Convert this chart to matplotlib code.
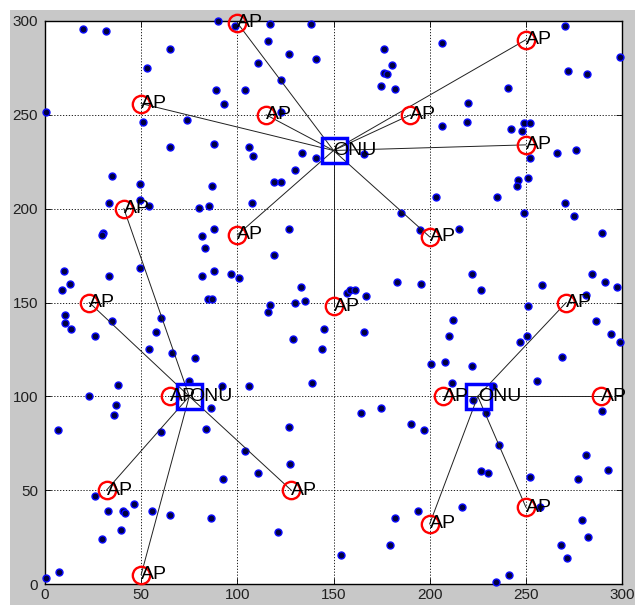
import matplotlib
matplotlib.use("Agg")
import matplotlib.pyplot as plt
from matplotlib.patches import Rectangle

plt.rcParams['font.family'] = ['Liberation Sans', 'DejaVu Sans']

# ---- data ----
tick_values = [0, 50, 100, 150, 200, 250, 300]

onu_x = [150, 75, 225]
onu_y = [231, 100, 100]

ap_x = [100, 50, 115, 190, 250, 250, 100, 200, 150,
        41, 23, 65, 32, 50, 128,
        271, 207, 289, 200, 250]
ap_y = [299, 256, 250, 250, 290, 234, 186, 185, 148,
        200, 150, 100, 50, 5, 50,
        150, 100, 100, 32, 41]
ap_onu = [0, 0, 0, 0, 0, 0, 0, 0, 0,
          1, 1, 1, 1, 1, 1,
          2, 2, 2, 2, 2]

user_x = [19.9, 31.7, 65, 52.9, 88.7, 92.9, 0.7, 51, 73.8, 65, 87.9, 34.7, 86.8, 49.6, 33.5,
          49.4, 53.9, 79.9, 85.1, 30.3, 29.6, 81.8, 88.1, 83, 49.4, 9.9, 33.5, 13, 8.7, 81.8,
          87.9, 96.7, 101, 84.6, 86.7, 90, 99,
          117, 138.1, 115.8, 127, 140.7, 110.9, 122.9, 104.2, 176.1, 180.4, 176.1, 178, 174.9,
          182.2, 106.1, 108, 133.8, 140.9, 130.2, 118.9, 122.7, 107.8, 127.1, 185.3, 194.8,
          118.9, 133.1, 157, 158.6, 161.4, 166.7, 182.9, 195.3, 130.2, 135, 117, 115.8, 166,
          122.7,
          206.4, 270.2, 299.2, 272.1, 282, 240.6, 220.1, 206.4, 219.4, 242.3, 247.9, 249.1,
          252.2, 252.2, 266.4, 276.3, 251, 246, 245.4, 203.3, 235, 270.4, 249.1, 275.1, 289.5,
          215.1, 221.9, 226.9, 284.6, 291.4, 297.4, 258.6, 281.3,
          10.6, 10.6, 13.3, 34.8, 60.3, 26.2, 57.7, 53.9, 66, 78, 75.1, 91.9, 38, 22.9, 36.8,
          35.9, 86.1, 6.9, 60.2, 83.6, 92.7, 26.2, 46.5, 32.8, 40.7, 41.8, 55.6, 65, 86.1,
          39.5, 29.6, 7.5, 0.5,
          145.1, 128.8, 166.1, 143.9, 138.7, 106.1, 200.5, 164.3, 174.7, 190.3, 197.1, 127.1,
          104.2, 127.6, 110.9, 121, 153.7, 182.2, 193.8, 179.2,
          251, 212, 210.3, 250.5, 247.2, 286.4, 294.3, 299.2, 269, 208.2, 221.9, 211.5, 256,
          233.1, 222.7, 229.3, 289.5, 236.1, 281.1, 292.6, 226.7, 230.2, 252, 277.2, 217,
          279.4, 282.2, 268.3, 271.4, 241.1, 234.3, 257.4]
user_y = [295.5, 294.5, 285.3, 275.1, 263.2, 255.6, 251.5, 246, 247.3, 233.1, 234.3, 217.6, 212.3, 213.4, 203.2,
          204.7, 201.3, 200.4, 201.5, 187.3, 186.2, 185.5, 189, 178.9, 168.3, 167, 164.2, 159.9, 156.9, 164.2,
          167, 165.3, 162.8, 152.1, 152.1, 300, 297.5,
          298.6, 298.6, 289.5, 282.4, 279.6, 277.6, 268.7, 263.2, 285.3, 276.4, 272.5, 271.6, 265.2,
          263.6, 233.1, 228.3, 229.5, 227, 220.6, 214.3, 214.3, 203.2, 189.2, 197.9, 188.5,
          175.4, 158.3, 155.3, 156.4, 156.4, 153.4, 161, 159.6, 150, 150.9, 148.5, 145, 229,
          251.5,
          288.3, 297.1, 280.6, 273.4, 271.6, 264.5, 256.1, 244.2, 246, 242.5, 241.2, 245.5,
          245.5, 227, 229.5, 231.1, 216.4, 215.1, 212.1, 206.3, 206.3, 203.2, 197.9, 196.1, 187.3,
          189.2, 165.3, 156.4, 165.3, 161, 158.2, 159.4, 153.9,
          143.2, 139.2, 136.1, 140.4, 142, 132.1, 134.4, 125, 123, 120.2, 108.3, 105.4, 106, 100, 95.3,
          89.8, 93.9, 82.2, 81, 82.7, 56.1, 47, 42.8, 38.7, 38.7, 38, 38.7, 36.9, 35.2,
          28.6, 23.8, 6.2, 3,
          136.1, 130.8, 134.4, 125, 106.9, 105.3, 117.2, 90.9, 93.9, 85, 82, 83.8,
          70.8, 63.7, 58.9, 27.9, 15.6, 35.1, 38.7, 21,
          148, 140.9, 131.9, 131.9, 129, 140.2, 133.1, 129, 121.2, 118.2, 116.1, 107, 108.3,
          105.4, 98.3, 90.9, 92.1, 73.9, 68.9, 60.7, 60.2, 58.9, 57.2, 55.9, 41.2,
          33.9, 25.2, 20.8, 13.7, 4.8, 0.9, 41.2]

# ---- figure ----
fig = plt.figure(figsize=(6.35, 6.05), dpi=100)
fig.patch.set_facecolor('white')
bg = Rectangle((10 / 635, 0), 1, 1 - 10 / 605, transform=fig.transFigure,
               facecolor='#c8c8c8', edgecolor='none', zorder=-10)
fig.patches.append(bg)
ax = fig.add_axes([45 / 635, 21 / 605, 577 / 635, 563 / 605])
ax.set_zorder(1)
ax.set_facecolor('white')

ax.set_xlim(0, 300)
ax.set_ylim(0, 300)
ax.set_xticks(tick_values)
ax.set_yticks(tick_values)
ax.set_xticklabels([str(t) for t in tick_values])
ax.set_yticklabels([str(t) for t in tick_values])
ax.tick_params(direction='in', length=4, width=0.6, labelsize=11, top=True, right=True,
               colors='black', labelcolor='#202020')
ax.tick_params(axis='x', pad=3)
ax.tick_params(axis='y', pad=5)
ax.grid(True, linestyle=(0, (1.5, 2)), color='black', linewidth=0.6)
ax.set_axisbelow(True)
for s in ax.spines.values():
    s.set_linewidth(1.0)
    s.set_color('black')

# users
ax.plot(user_x, user_y, 'o', ms=5.0, mfc='#000040', mec='#0a0aff', mew=1.0,
        linestyle='none', zorder=3, clip_on=False)

# links
for i in range(len(ap_x)):
    k = ap_onu[i]
    ax.plot([onu_x[k], ap_x[i]], [onu_y[k], ap_y[i]], '-', color='#202020', lw=0.7, zorder=4)

# APs
ax.plot(ap_x, ap_y, 'o', ms=12.5, mfc='none', mec='#ff0000', mew=1.7,
        linestyle='none', zorder=5, clip_on=False)
for x, y in zip(ap_x, ap_y):
    ax.text(x, y, 'AP', fontsize=14, ha='left', va='center', color='black', zorder=7)

# ONUs
ax.plot(onu_x, onu_y, 's', ms=18, mfc='none', mec='#0000ff', mew=2.5,
        linestyle='none', zorder=6, clip_on=False)
for x, y in zip(onu_x, onu_y):
    ax.text(x, y, 'ONU', fontsize=14, ha='left', va='center', color='black', zorder=7)

fig.savefig('out.png', dpi=100, facecolor=fig.get_facecolor())
